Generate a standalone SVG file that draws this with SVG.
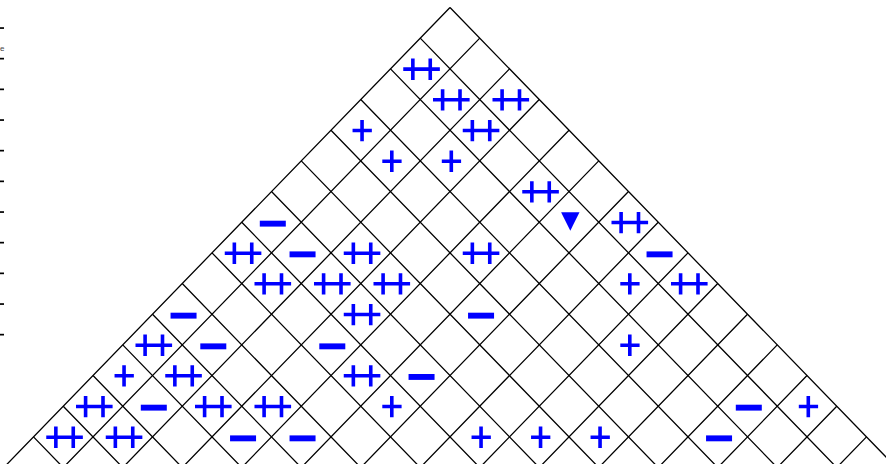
<svg xmlns="http://www.w3.org/2000/svg" xmlns:xlink="http://www.w3.org/1999/xlink" width="886" height="464" viewBox="0 0 886 464">
<style>
.g{stroke:#000;stroke-width:1.3;fill:none}
.s{stroke:#0000ff;stroke-width:3.6;fill:none}
.f{fill:#0000ff}
.t{fill:#000}
</style>
<defs>
<path id="p" class="s" d="M-9.5,0H9.8M0,-10.6V10.8"/>
<path id="pp" class="s" d="M-18.3,0H18.3M-8.7,-10.6V10.8M8.7,-10.6V10.8"/>
<rect id="m" class="f" x="-13" y="-1.8" width="26" height="5.9"/>
<polygon id="tri" class="f" points="-9.2,-10.2 9.2,-10.2 0,8.3"/>
</defs>
<rect width="886" height="464" fill="#fff"/>
<g id="axis">
<rect class="t" x="0" y="27.2" width="4" height="1.7"/>
<rect class="t" x="0" y="57.8" width="4" height="1.7"/>
<rect class="t" x="0" y="88.5" width="4" height="1.7"/>
<rect class="t" x="0" y="119.2" width="4" height="1.7"/>
<rect class="t" x="0" y="149.8" width="4" height="1.7"/>
<rect class="t" x="0" y="180.5" width="4" height="1.7"/>
<rect class="t" x="0" y="211.2" width="4" height="1.7"/>
<rect class="t" x="0" y="241.8" width="4" height="1.7"/>
<rect class="t" x="0" y="272.5" width="4" height="1.7"/>
<rect class="t" x="0" y="303.2" width="4" height="1.7"/>
<rect class="t" x="0" y="333.8" width="4" height="1.7"/>
<text x="0" y="51" font-family="Liberation Sans, sans-serif" font-size="8" fill="#444">e</text>
</g>
<g id="grid" class="g">
<path d="M450,7.5L908.33,480M420.25,38.17L848.83,480M390.5,68.84L789.33,480M360.75,99.51L729.83,480M331,130.18L670.33,480M301.25,160.85L610.83,480M271.5,191.52L551.33,480M241.75,222.19L491.83,480M212,252.86L432.33,480M182.25,283.53L372.83,480M152.5,314.2L313.33,480M122.75,344.87L253.83,480M93,375.54L194.33,480M63.25,406.21L134.83,480M33.5,436.88L75.33,480"/>
<path d="M450,7.5L-8.33,480M479.75,38.17L51.17,480M509.5,68.84L110.67,480M539.25,99.51L170.17,480M569,130.18L229.67,480M598.75,160.85L289.17,480M628.5,191.52L348.67,480M658.25,222.19L408.17,480M688,252.86L467.67,480M717.75,283.53L527.17,480M747.5,314.2L586.67,480M777.25,344.87L646.17,480M807,375.54L705.67,480M836.75,406.21L765.17,480M866.5,436.88L824.67,480"/>
</g>
<g id="marks">
<use xlink:href="#pp" href="#pp" x="421.55" y="69.1"/>
<use xlink:href="#pp" href="#pp" x="451.3" y="99.8"/>
<use xlink:href="#pp" href="#pp" x="510.8" y="99.8"/>
<use xlink:href="#p" href="#p" x="362.05" y="130.5"/>
<use xlink:href="#pp" href="#pp" x="481.05" y="130.5"/>
<use xlink:href="#p" href="#p" x="391.8" y="161.2"/>
<use xlink:href="#p" href="#p" x="451.3" y="161.2"/>
<use xlink:href="#pp" href="#pp" x="540.55" y="191.8"/>
<use xlink:href="#m" href="#m" x="272.8" y="222.5"/>
<use xlink:href="#tri" href="#tri" x="570.3" y="222.5"/>
<use xlink:href="#pp" href="#pp" x="629.8" y="222.5"/>
<use xlink:href="#pp" href="#pp" x="243.05" y="253.2"/>
<use xlink:href="#m" href="#m" x="302.55" y="253.2"/>
<use xlink:href="#pp" href="#pp" x="362.05" y="253.2"/>
<use xlink:href="#pp" href="#pp" x="481.05" y="253.2"/>
<use xlink:href="#m" href="#m" x="659.55" y="253.2"/>
<use xlink:href="#pp" href="#pp" x="272.8" y="283.8"/>
<use xlink:href="#pp" href="#pp" x="332.3" y="283.8"/>
<use xlink:href="#pp" href="#pp" x="391.8" y="283.8"/>
<use xlink:href="#p" href="#p" x="629.8" y="283.8"/>
<use xlink:href="#pp" href="#pp" x="689.3" y="283.8"/>
<use xlink:href="#m" href="#m" x="183.55" y="314.5"/>
<use xlink:href="#pp" href="#pp" x="362.05" y="314.5"/>
<use xlink:href="#m" href="#m" x="481.05" y="314.5"/>
<use xlink:href="#pp" href="#pp" x="153.8" y="345.2"/>
<use xlink:href="#m" href="#m" x="213.3" y="345.2"/>
<use xlink:href="#m" href="#m" x="332.3" y="345.2"/>
<use xlink:href="#p" href="#p" x="629.8" y="345.2"/>
<use xlink:href="#p" href="#p" x="124.05" y="375.8"/>
<use xlink:href="#pp" href="#pp" x="183.55" y="375.8"/>
<use xlink:href="#pp" href="#pp" x="362.05" y="375.8"/>
<use xlink:href="#m" href="#m" x="421.55" y="375.8"/>
<use xlink:href="#pp" href="#pp" x="94.3" y="406.5"/>
<use xlink:href="#m" href="#m" x="153.8" y="406.5"/>
<use xlink:href="#pp" href="#pp" x="213.3" y="406.5"/>
<use xlink:href="#pp" href="#pp" x="272.8" y="406.5"/>
<use xlink:href="#p" href="#p" x="391.8" y="406.5"/>
<use xlink:href="#m" href="#m" x="748.8" y="406.5"/>
<use xlink:href="#p" href="#p" x="808.3" y="406.5"/>
<use xlink:href="#pp" href="#pp" x="64.55" y="437.2"/>
<use xlink:href="#pp" href="#pp" x="124.05" y="437.2"/>
<use xlink:href="#m" href="#m" x="243.05" y="437.2"/>
<use xlink:href="#m" href="#m" x="302.55" y="437.2"/>
<use xlink:href="#p" href="#p" x="481.05" y="437.2"/>
<use xlink:href="#p" href="#p" x="540.55" y="437.2"/>
<use xlink:href="#p" href="#p" x="600.05" y="437.2"/>
<use xlink:href="#m" href="#m" x="719.05" y="437.2"/>
</g>
</svg>
